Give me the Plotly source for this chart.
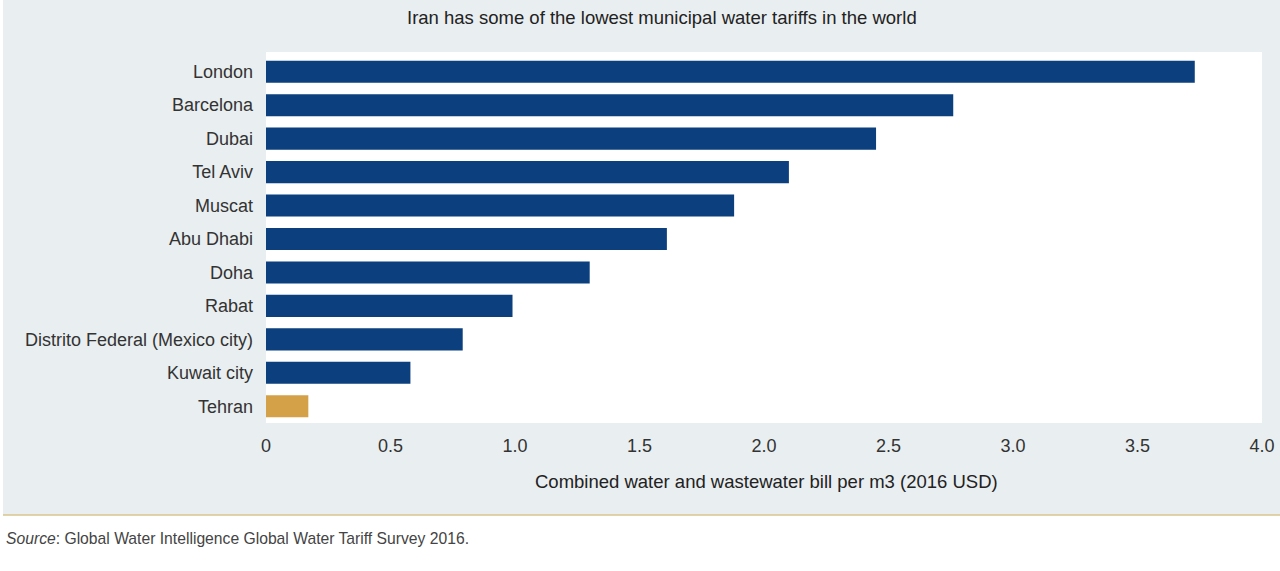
import plotly.graph_objects as go

# data
cities = ["London", "Barcelona", "Dubai", "Tel Aviv", "Muscat", "Abu Dhabi",
          "Doha", "Rabat", "Distrito Federal (Mexico city)", "Kuwait city", "Tehran"]
tariffs = [3.73, 2.76, 2.45, 2.10, 1.88, 1.61, 1.30, 0.99, 0.79, 0.58, 0.17]
x_ticks = [0, 0.5, 1.0, 1.5, 2.0, 2.5, 3.0, 3.5, 4.0]
x_tick_labels = ["0", "0.5", "1.0", "1.5", "2.0", "2.5", "3.0", "3.5", "4.0"]

NAVY = "#0b3f7e"
GOLD = "#d4a048"
PANEL = "#e9eef0"
TXT = "#333333"
FONT = "Liberation Sans, Arial, sans-serif"

colors = [GOLD if c == "Tehran" else NAVY for c in cities]

bars = go.Bar(
    x=tariffs,
    y=cities,
    orientation="h",
    marker=dict(color=colors, line=dict(width=0)),
    hoverinfo="x+y",
)

# plot area in pixels: x 266..1262, y 55..423
L, R, T, B = 266, 1262, 55, 423
W, H = R - L, B - T


def px(x):
    return (x - L) / W


def py(y):
    return (B - y) / H


layout = go.Layout(
    width=1280,
    height=571,
    margin=dict(l=L, r=1280 - R, t=T, b=571 - B, autoexpand=False),
    paper_bgcolor=PANEL,
    plot_bgcolor="white",
    font=dict(family=FONT, size=18, color=TXT),
    bargap=0.34,
    showlegend=False,
    xaxis=dict(
        range=[0, 4.0],
        tickvals=x_ticks,
        ticktext=x_tick_labels,
        showgrid=False,
        zeroline=False,
        showline=False,
        ticks="",
        tickfont=dict(size=18, color=TXT),
        ticklabelstandoff=10,
        automargin=False,
        fixedrange=True,
    ),
    yaxis=dict(
        categoryorder="array",
        categoryarray=cities,
        autorange="reversed",
        showgrid=False,
        zeroline=False,
        showline=False,
        ticks="",
        ticklabelstandoff=12,
        tickfont=dict(size=18, color=TXT),
        automargin=False,
        fixedrange=True,
    ),
    shapes=[
        # white area under the panel
        dict(type="rect", xref="paper", yref="paper",
             x0=px(-20), x1=px(1300), y0=py(515), y1=py(600),
             fillcolor="white", line=dict(width=0), layer="below"),
        # thin white strip on the left edge
        dict(type="rect", xref="paper", yref="paper",
             x0=px(-20), x1=px(3), y0=py(515), y1=py(-20),
             fillcolor="white", line=dict(width=0), layer="below"),
        # white strip above the plot area
        dict(type="rect", xref="paper", yref="paper",
             x0=0, x1=1, y0=1, y1=py(52),
             fillcolor="white", line=dict(width=0), layer="below"),
        # golden rule above the source line
        dict(type="line", xref="paper", yref="paper",
             x0=px(3), x1=px(1280), y0=py(515), y1=py(515),
             line=dict(color="#d8c48e", width=1.5)),
    ],
    annotations=[
        dict(text="Iran has some of the lowest municipal water tariffs in the world",
             xref="paper", yref="paper", x=px(662), y=py(18),
             xanchor="center", yanchor="middle", showarrow=False,
             font=dict(size=18.5, color="#222222")),
        dict(text="Combined water and wastewater bill per m3 (2016 USD)",
             xref="paper", yref="paper", x=px(766), y=py(481),
             xanchor="center", yanchor="middle", showarrow=False,
             font=dict(size=18.5, color="#222222")),
        dict(text="<i>Source</i>: Global Water Intelligence Global Water Tariff Survey 2016.",
             xref="paper", yref="paper", x=px(4), y=py(538),
             xanchor="left", yanchor="middle", showarrow=False,
             font=dict(size=15.7, color="#444444")),
    ],
)

fig = go.Figure(data=[bars], layout=layout)
# drop the default 8px page margin so the figure sits at the window origin
fig.write_html("out.html", config={"displayModeBar": False},
               post_script="document.body.style.margin='0';")
